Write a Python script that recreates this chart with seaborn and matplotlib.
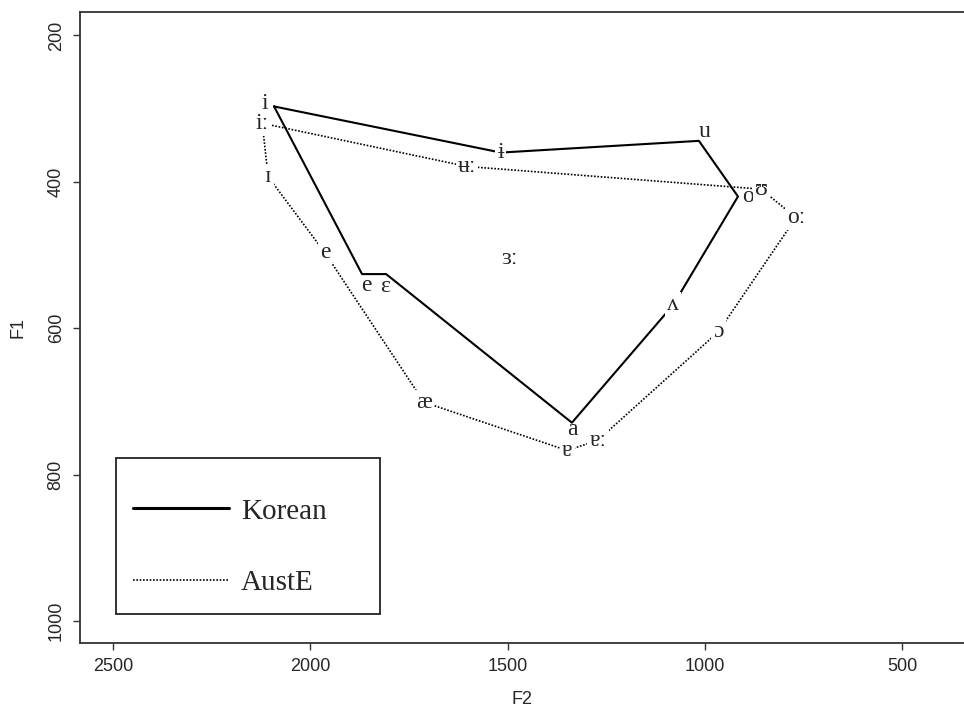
import matplotlib
matplotlib.use("Agg")
import matplotlib.pyplot as plt
import numpy as np
import pandas as pd
import seaborn as sns
from matplotlib.lines import Line2D
from matplotlib.patches import Rectangle

# Korean vowel space (F2, F1 in Hz), in outline order
kor_vowels = ["i", "ɨ", "u", "o", "ʌ", "a", "ɛ", "e"]
kor_f2 = [2092, 1517, 1015, 916, 1080, 1337, 1808, 1869]
kor_f1 = [297, 360, 344, 420, 568, 729, 526, 526]

# Australian English vowel space, in outline order
aus_vowels = ["iː", "ʉː", "ʊ", "oː", "ɔ", "ɐː", "ɐ", "æ", "e", "ɪ"]
aus_f2 = [2122, 1603, 857, 769, 966, 1271, 1349, 1712, 1963, 2107]
aus_f1 = [320, 379, 410, 449, 605, 753, 767, 701, 497, 393]

# central AustE vowel, not on the outline
mid_vowel = "ɜː"
mid_f2 = 1494
mid_f1 = 505

x_ticks = [2500, 2000, 1500, 1000, 500]
y_ticks = [200, 400, 600, 800, 1000]


def closed(f2, f1, name):
    d = pd.DataFrame({"F2": f2 + f2[:1], "F1": f1 + f1[:1]})
    d["lang"] = name
    return d


df_kor = closed(kor_f2, kor_f1, "Korean")
df_aus = closed(aus_f2, aus_f1, "AustE")

sns.set_style("ticks")
plt.rcParams["font.family"] = ["Liberation Sans", "DejaVu Sans"]
serif = ["Liberation Serif", "DejaVu Serif"]

fig = plt.figure(figsize=(9.64, 7.11), dpi=100)
ax = fig.add_axes([0.083, 0.0956, 0.917, 0.8875])

sns.lineplot(data=df_kor, x="F2", y="F1", sort=False, estimator=None,
             color="black", linewidth=1.5, ax=ax)
sns.lineplot(data=df_aus, x="F2", y="F1", sort=False, estimator=None,
             color="black", linewidth=1.2, linestyle=(0, (1, 1)), ax=ax)

# Korean labels sit beside the vertices (offsets in points)
kor_off = [(-7, 2), (0, 0), (4, 7), (7, 0), (0, 0), (0, -5), (-1, -9), (3, -8)]
kor_gap = [False, True, False, False, True, False, False, False]
for v, x, y, off, gap in zip(kor_vowels, kor_f2, kor_f1, kor_off, kor_gap):
    bb = dict(facecolor="white", edgecolor="none", pad=1.5) if gap else None
    ax.annotate(v, (x, y), xytext=off, textcoords="offset points",
                ha="center", va="center", fontsize=17, family=serif, bbox=bb)

# AustE labels sit on the vertices and break the dotted line
for v, x, y in zip(aus_vowels, aus_f2, aus_f1):
    ax.text(x, y, v, ha="center", va="center", fontsize=17, family=serif,
            bbox=dict(facecolor="white", edgecolor="none", pad=1.5))
ax.text(mid_f2, mid_f1, mid_vowel, ha="center", va="center", fontsize=17,
        family=serif)

ax.set_xlim(2584, 343)
ax.set_ylim(1030, 168)
ax.set_xticks(x_ticks)
ax.set_yticks(y_ticks)
ax.tick_params(axis="both", length=5, width=1, color="#333333",
               labelsize=13, pad=6)
plt.setp(ax.get_yticklabels(), rotation=90, va="center")
ax.set_xlabel("F2", fontsize=13, labelpad=11)
ax.set_ylabel("F1", fontsize=13, labelpad=15)
for s in ["left", "top", "bottom"]:
    ax.spines[s].set_linewidth(1.3)
    ax.spines[s].set_color("#333333")
ax.spines["right"].set_visible(False)

# legend box
ax.add_patch(Rectangle((0.0407, 0.046), 0.2986, 0.247, transform=ax.transAxes,
                       fill=False, edgecolor="#222222", linewidth=1.3))
handles = [Line2D([], [], color="black", linewidth=2.2),
           Line2D([], [], color="black", linewidth=1.2, linestyle=(0, (1, 1)))]
leg = ax.legend(handles, ["Korean", "AustE"], loc="center left",
                bbox_to_anchor=(0.060, 0.152), frameon=False, borderpad=0,
                borderaxespad=0, handlelength=3.3, handletextpad=0.4,
                labelspacing=1.55, prop={"family": serif, "size": 21})

fig.savefig("out.png", dpi=100)
